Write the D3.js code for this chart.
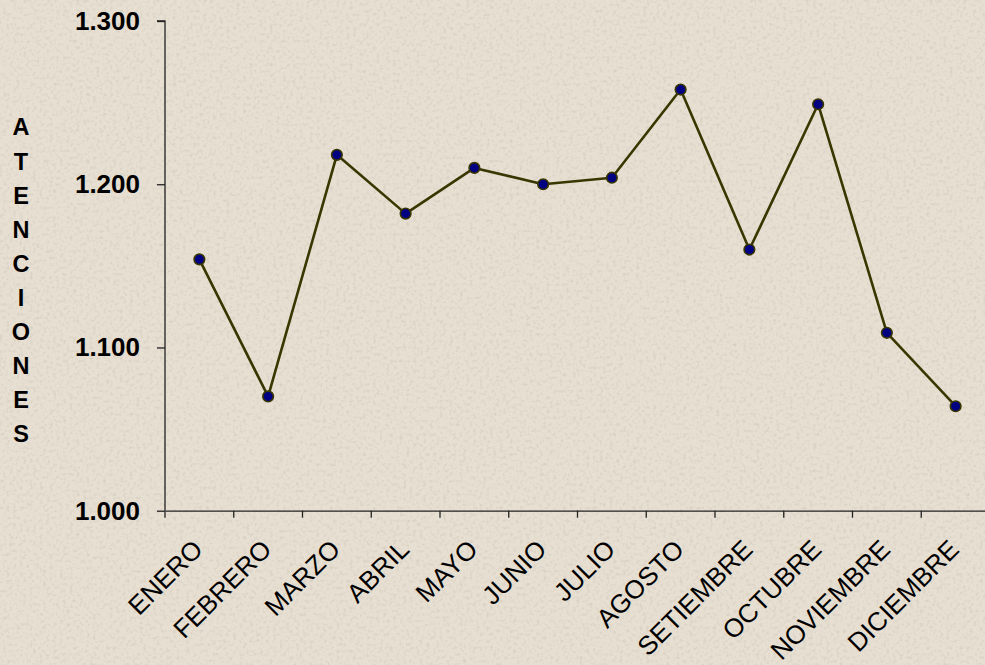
<!DOCTYPE html>
<html>
<head>
<meta charset="utf-8">
<script src="https://cdn.jsdelivr.net/npm/d3@7"></script>
<style>
  html, body { margin: 0; padding: 0; background: #e4ddd0; }
  svg { display: block; }
</style>
</head>
<body>
<svg id="chart" width="985" height="665"></svg>
<script>
// ---- data ----
const categories = ["ENERO", "FEBRERO", "MARZO", "ABRIL", "MAYO", "JUNIO",
                    "JULIO", "AGOSTO", "SETIEMBRE", "OCTUBRE", "NOVIEMBRE", "DICIEMBRE"];
const atenciones = [1154, 1070, 1218, 1182, 1210, 1200, 1204, 1258, 1160, 1249, 1109, 1064];
const yTicks = [1000, 1100, 1200, 1300];
const yTitle = "ATENCIONES";

// ---- setup ----
const W = 985, H = 665;
const svg = d3.select("#chart");
const font = "'Liberation Sans', Arial, sans-serif";

// textured background
const defs = svg.append("defs");
const filt = defs.append("filter").attr("id", "paper")
  .attr("x", 0).attr("y", 0).attr("width", "100%").attr("height", "100%");
filt.append("feTurbulence").attr("type", "fractalNoise")
  .attr("baseFrequency", 0.3).attr("numOctaves", 3).attr("seed", 7).attr("result", "noise");
filt.append("feColorMatrix").attr("in", "noise").attr("type", "matrix")
  .attr("values", "0 0 0 0 0.55  0 0 0 0 0.50  0 0 0 0 0.42  0 0 0 -2.6 1.35");
svg.append("rect").attr("width", W).attr("height", H).attr("fill", "#e6dfd2");
svg.append("rect").attr("width", W).attr("height", H).attr("filter", "url(#paper)").attr("opacity", 0.4);

const x = d3.scaleBand().domain(categories).range([165, 990]).padding(0);
const y = d3.scaleLinear().domain([1000, 1300]).range([510.7, 21]);

const loc = d3.formatLocale({ decimal: ",", thousands: ".", grouping: [3], currency: ["", ""] });
const fmt = loc.format(",.0f");

// ---- y axis ----
const yAxis = svg.append("g").attr("transform", "translate(165,0)")
  .call(d3.axisLeft(y).tickValues(yTicks).tickFormat(fmt).tickSize(8).tickPadding(17));
yAxis.select(".domain").attr("stroke", "#222").attr("stroke-width", 1.3)
  .attr("d", `M-8,${y(1300)}H0V${y(1000)}`);
yAxis.selectAll(".tick line").attr("stroke", "#222").attr("stroke-width", 1.3);
yAxis.selectAll(".tick text")
  .attr("font-family", font).attr("font-size", 26).attr("font-weight", "bold")
  .attr("fill", "#000");

// ---- x axis ----
const xAxis = svg.append("g").attr("transform", `translate(0,${y(1000)})`)
  .call(d3.axisBottom(x).tickSize(0).tickFormat(""));
xAxis.select(".domain").attr("stroke", "#222").attr("stroke-width", 1.3);
// boundary ticks
const boundaries = categories.map(c => x(c)).concat([x.range()[1]]);
xAxis.selectAll(".bt").data(boundaries).enter().append("line")
  .attr("class", "bt")
  .attr("x1", d => d).attr("x2", d => d).attr("y1", 0).attr("y2", 7)
  .attr("stroke", "#222").attr("stroke-width", 1.3);
// rotated labels
svg.append("g").selectAll("text").data(categories).enter().append("text")
  .attr("transform", d => `translate(${x(d) + x.bandwidth() / 2 + 5},551) rotate(-45)`)
  .attr("text-anchor", "end")
  .attr("font-family", font).attr("font-size", 26)
  .attr("fill", "#000")
  .text(d => d);

// ---- y title (stacked letters) ----
svg.append("g").selectAll("text").data(yTitle.split("")).enter().append("text")
  .attr("x", 21).attr("y", (d, i) => 127 + i * 34.1)
  .attr("dy", "0.36em")
  .attr("text-anchor", "middle")
  .attr("font-family", font).attr("font-size", 23.5).attr("font-weight", "bold")
  .attr("fill", "#000")
  .text(d => d);

// ---- line + markers ----
const pts = categories.map((c, i) => ({ c, v: atenciones[i] }));
const line = d3.line().x(d => x(d.c) + x.bandwidth() / 2).y(d => y(d.v));
svg.append("path").datum(pts)
  .attr("d", line).attr("fill", "none")
  .attr("stroke", "#3a3600").attr("stroke-width", 2.6).attr("stroke-linejoin", "round");
svg.append("g").selectAll("circle").data(pts).enter().append("circle")
  .attr("cx", d => x(d.c) + x.bandwidth() / 2).attr("cy", d => y(d.v))
  .attr("r", 5.3).attr("fill", "#000080").attr("stroke", "#3a3600").attr("stroke-width", 1.6);
</script>
</body>
</html>
